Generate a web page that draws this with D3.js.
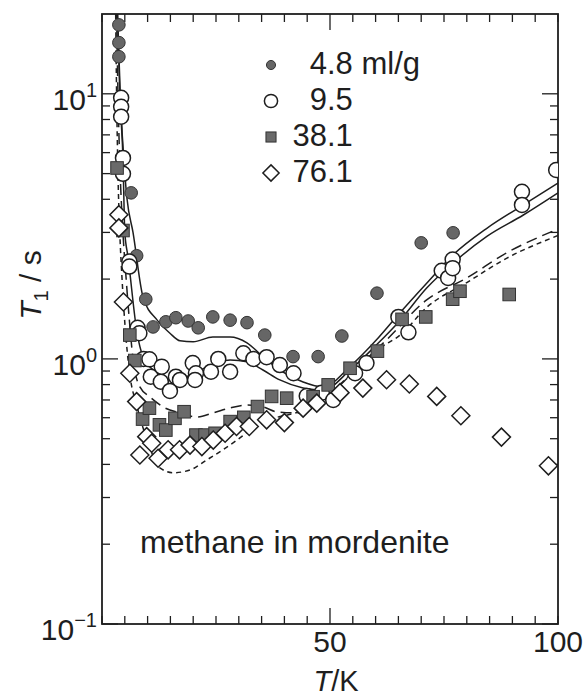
<!DOCTYPE html>
<html>
<head>
<meta charset="utf-8">
<script src="https://cdn.jsdelivr.net/npm/d3@7"></script>
<style>
  body { margin: 0; background: #fff; }
  svg { display: block; }
  text { font-family: "Liberation Sans", Arial, Helvetica, sans-serif; fill: #1e1e1e; }
</style>
</head>
<body>
<svg id="chart" width="587" height="700"></svg>
<script>
// ---- measured T1 relaxation times (T in K, T1 in s) ----
const legendLabels = ["4.8 ml/g", "9.5", "38.1", "76.1"];

const temp48 = [3.7, 3.7, 3.7, 6.4, 7.6, 9.6, 11.2, 14.0, 16.2, 18.9, 21.1, 24.3, 28.1, 31.8, 35.7, 41.9, 47.4, 52.6, 60.3, 70.0, 77.0];
const t1_48  = [18.2, 15.6, 13.8, 4.23, 2.45, 1.68, 1.32, 1.38, 1.43, 1.39, 1.31, 1.44, 1.40, 1.37, 1.23, 1.02, 1.02, 1.22, 1.77, 2.74, 2.99];

const temp95 = [4.2, 4.2, 4.2, 4.6, 4.6, 6.0, 6.0, 7.8, 8.2, 9.1, 10.4, 10.7, 12.9, 13.1, 14.9, 16.2, 17.1, 19.9, 20.6, 20.4, 23.9, 25.5, 28.1, 31.0, 33.2, 36.1, 39.0, 42.0, 44.9, 48.2, 50.7, 55.5, 58.0, 65.0, 67.2, 74.5, 75.9, 76.9, 76.9, 92.1, 92.1, 99.6];
const t1_95  = [9.66, 8.93, 8.19, 5.73, 4.99, 2.33, 2.23, 1.31, 1.25, 1.0, 0.996, 0.857, 0.82, 0.935, 0.757, 0.857, 0.833, 0.964, 0.883, 0.833, 0.895, 1.0, 0.895, 1.05, 1.0, 1.015, 0.948, 0.883, 0.724, 0.746, 0.70, 0.883, 0.964, 1.44, 1.26, 2.15, 2.02, 2.37, 2.2, 4.27, 3.81, 5.16];

const temp381 = [3.3, 4.6, 6.1, 7.2, 8.9, 10.4, 12.6, 14.0, 16.0, 18.0, 20.6, 22.6, 24.8, 28.1, 31.1, 34.1, 37.2, 40.5, 46.3, 49.6, 54.4, 60.4, 65.8, 71.0, 76.9, 78.5, 89.3];
const t1_381  = [5.25, 3.05, 1.23, 0.986, 0.593, 0.652, 0.564, 0.539, 0.597, 0.632, 0.516, 0.516, 0.524, 0.58, 0.602, 0.661, 0.722, 0.711, 0.72, 0.798, 0.922, 1.07, 1.41, 1.44, 1.68, 1.80, 1.75];

const temp761 = [3.7, 3.7, 4.7, 6.1, 7.6, 9.8, 10.9, 8.3, 12.3, 14.5, 17.0, 19.3, 21.9, 24.4, 27.0, 29.5, 32.3, 36.1, 40.0, 44.1, 47.1, 52.2, 57.2, 62.4, 67.4, 73.4, 78.7, 87.6, 97.9];
const t1_761  = [3.5, 3.12, 1.64, 0.883, 0.69, 0.509, 0.481, 0.434, 0.422, 0.454, 0.454, 0.473, 0.467, 0.494, 0.524, 0.556, 0.556, 0.589, 0.575, 0.652, 0.681, 0.746, 0.776, 0.834, 0.804, 0.722, 0.61, 0.507, 0.395];

// ---- model curves ----
const fitTemp48 = [3.4, 4.0, 5.0, 5.5, 6.8, 9.0, 12.1, 14.9, 17.1, 20.0, 24.3, 28.1, 31.8, 35.3, 39.0, 44.1, 48.5, 54.4, 60.2, 65.0, 71.2, 77.0, 84.4, 92.4, 100];
const fitT1_48   = [20, 10, 5.0, 4.0, 3.0, 1.71, 1.40, 1.25, 1.17, 1.16, 1.21, 1.21, 1.15, 1.02, 0.908, 0.818, 0.784, 0.936, 1.18, 1.47, 1.93, 2.47, 3.11, 3.81, 4.61];

const fitTemp95 = [3.4, 3.9, 4.6, 5.0, 5.7, 7.7, 9.0, 12.1, 14.9, 17.8, 21.5, 25.2, 28.1, 31.8, 35.3, 39.0, 44.1, 48.5, 54.4, 60.2, 65.4, 71.2, 77.0, 84.4, 92.4, 100];
const fitT1_95   = [20, 10, 5.7, 3.0, 2.43, 1.25, 1.02, 0.885, 0.833, 0.848, 0.908, 0.966, 0.991, 0.975, 0.908, 0.833, 0.777, 0.763, 0.908, 1.13, 1.40, 1.85, 2.30, 2.90, 3.49, 4.23];

const fitTemp381 = [3.2, 3.5, 3.9, 4.5, 5.3, 6.0, 6.8, 8.3, 10.5, 13.4, 17.1, 20.8, 24.3, 28.1, 31.8, 35.3, 38.4, 43.4, 47.8, 53.0, 58.0, 62.4, 71.2, 80.0, 88.7, 100];
const fitT1_381   = [20, 10, 5.5, 3.2, 2.0, 1.4, 1.0, 0.784, 0.719, 0.659, 0.625, 0.604, 0.625, 0.653, 0.67, 0.659, 0.631, 0.625, 0.68, 0.82, 1.0, 1.18, 1.67, 2.02, 2.51, 3.09];

const fitTemp761 = [3.0, 3.2, 3.5, 3.9, 4.4, 5.1, 6.0, 7.7, 9.9, 12.7, 15.6, 19.3, 23.0, 26.5, 29.6, 32.5, 36.8, 44.0, 50.7, 55.0, 61.0, 65.4, 71.3, 80.0, 88.8, 100];
const fitT1_761   = [20, 10, 5.0, 3.0, 2.0, 1.3, 0.9, 0.66, 0.494, 0.388, 0.372, 0.381, 0.416, 0.454, 0.494, 0.539, 0.589, 0.64, 0.76, 0.89, 1.10, 1.23, 1.57, 1.94, 2.40, 2.92];

// ---- axis ticks ----
const xMinorTicks = d3.range(0, 101, 5);
const xMajorTicks = [50];
const xTickLabels = [50, 100];
const yDecades = [0.1, 1, 10];
const yExponents = ["\u22121", "0", "1"];
const yMinorTicks = [0.2,0.3,0.4,0.5,0.6,0.7,0.8,0.9,2,3,4,5,6,7,8,9];

// ---- layout ----
const svg = d3.select("#chart");
const plotL = 102, plotR = 558, plotT = 14, plotB = 624;
const x = d3.scaleLinear().domain([0, 100]).range([plotL, plotR]);
const y = d3.scaleLog().domain([0.1, 20]).range([plotB, plotT]);
const ink = "#1e1e1e";

svg.append("defs").append("clipPath").attr("id", "plotClip")
  .append("rect").attr("x", plotL).attr("y", plotT).attr("width", plotR - plotL).attr("height", plotB - plotT);

// ticks, all pointing into the frame
const minorLen = 8, majorLen = 16;
const tickG = svg.append("g").attr("stroke", ink).attr("stroke-width", 1.3);
xMinorTicks.forEach(t => {
  const len = xMajorTicks.includes(t) ? majorLen : minorLen;
  tickG.append("line").attr("x1", x(t)).attr("x2", x(t)).attr("y1", plotB).attr("y2", plotB - len);
  tickG.append("line").attr("x1", x(t)).attr("x2", x(t)).attr("y1", plotT).attr("y2", plotT + len);
});
yMinorTicks.forEach(v => {
  tickG.append("line").attr("x1", plotL).attr("x2", plotL + minorLen).attr("y1", y(v)).attr("y2", y(v));
  tickG.append("line").attr("x1", plotR).attr("x2", plotR - minorLen).attr("y1", y(v)).attr("y2", y(v));
});
yDecades.forEach(v => {
  tickG.append("line").attr("x1", plotL).attr("x2", plotL + majorLen).attr("y1", y(v)).attr("y2", y(v));
  tickG.append("line").attr("x1", plotR).attr("x2", plotR - majorLen).attr("y1", y(v)).attr("y2", y(v));
});

// frame
svg.append("rect").attr("x", plotL).attr("y", plotT).attr("width", plotR - plotL).attr("height", plotB - plotT)
  .attr("fill", "none").attr("stroke", ink).attr("stroke-width", 1.8);

// tick labels
xTickLabels.forEach(t => {
  svg.append("text").attr("x", x(t)).attr("y", plotB + 28).attr("text-anchor", "middle")
    .attr("font-size", 30).text(t);
});
yDecades.forEach((v, i) => {
  const lab = svg.append("text").attr("x", 97).attr("y", y(v) + 16).attr("text-anchor", "end").attr("font-size", 30);
  lab.append("tspan").text("10");
  lab.append("tspan").attr("dy", -13).attr("font-size", 20).text(yExponents[i]);
});

// axis titles
const xt = svg.append("text").attr("x", 336).attr("y", 691).attr("text-anchor", "middle").attr("font-size", 29);
xt.append("tspan").attr("font-style", "italic").text("T");
xt.append("tspan").text("/K");

const yt = svg.append("text").attr("transform", "translate(41,285) rotate(-90)")
  .attr("text-anchor", "middle").attr("font-size", 30);
yt.append("tspan").attr("font-style", "italic").text("T");
yt.append("tspan").attr("font-size", 20).attr("dy", 7).text("1");
yt.append("tspan").attr("dy", -7).text(" / s");

// model curves
const line = d3.line().x(d => x(d[0])).y(d => y(d[1])).curve(d3.curveMonotoneX);
const curves = [
  { t: fitTemp48, v: fitT1_48, dash: null },
  { t: fitTemp95, v: fitT1_95, dash: null },
  { t: fitTemp381, v: fitT1_381, dash: "11,6" },
  { t: fitTemp761, v: fitT1_761, dash: "5,4" }
];
const curveG = svg.append("g").attr("clip-path", "url(#plotClip)");
curves.forEach(c => {
  curveG.append("path").datum(d3.zip(c.t, c.v)).attr("d", line)
    .attr("fill", "none").attr("stroke", ink).attr("stroke-width", 1.5)
    .attr("stroke-dasharray", c.dash);
});

// markers
const markG = svg.append("g").attr("clip-path", "url(#plotClip)");
function drawMarker(g, kind, cx, cy, s) {
  if (kind === "filledCircle") {
    g.append("circle").attr("cx", cx).attr("cy", cy).attr("r", 6.3 * s)
      .attr("fill", "#666").attr("stroke", "#333").attr("stroke-width", 1);
  } else if (kind === "openCircle") {
    g.append("circle").attr("cx", cx).attr("cy", cy).attr("r", 7.5 * s)
      .attr("fill", "#fff").attr("stroke", ink).attr("stroke-width", 1.5);
  } else if (kind === "square") {
    const h = 6.3 * s;
    g.append("rect").attr("x", cx - h).attr("y", cy - h).attr("width", 2 * h).attr("height", 2 * h)
      .attr("fill", "#6a6a6a").attr("stroke", "#333").attr("stroke-width", 1);
  } else {
    const h = 9 * s;
    g.append("path").attr("d", `M${cx},${cy - h}L${cx + h},${cy}L${cx},${cy + h}L${cx - h},${cy}Z`)
      .attr("fill", "#fff").attr("stroke", ink).attr("stroke-width", 1.5);
  }
}
const series = [
  { t: temp48, v: t1_48, kind: "filledCircle" },
  { t: temp95, v: t1_95, kind: "openCircle" },
  { t: temp381, v: t1_381, kind: "square" },
  { t: temp761, v: t1_761, kind: "diamond" }
];
series.forEach(s => {
  s.t.forEach((t, i) => drawMarker(markG, s.kind, x(t), y(s.v[i]), 1));
});

// legend, numbers aligned on the decimal point
const legG = svg.append("g");
const legScale = [0.72, 0.88, 0.8, 0.9];
legendLabels.forEach((lab, i) => {
  const base = 74 + i * 36;
  drawMarker(legG, series[i].kind, 271, base - 9, legScale[i]);
  const probe = legG.append("text").attr("font-size", 31).text(lab.split(".")[0]);
  const w = probe.node().getComputedTextLength();
  probe.remove();
  legG.append("text").attr("x", 327 - w).attr("y", base).attr("font-size", 31).text(lab);
});

// annotation
svg.append("text").attr("x", 140).attr("y", 553).attr("font-size", 32).text("methane in mordenite");
</script>
</body>
</html>
